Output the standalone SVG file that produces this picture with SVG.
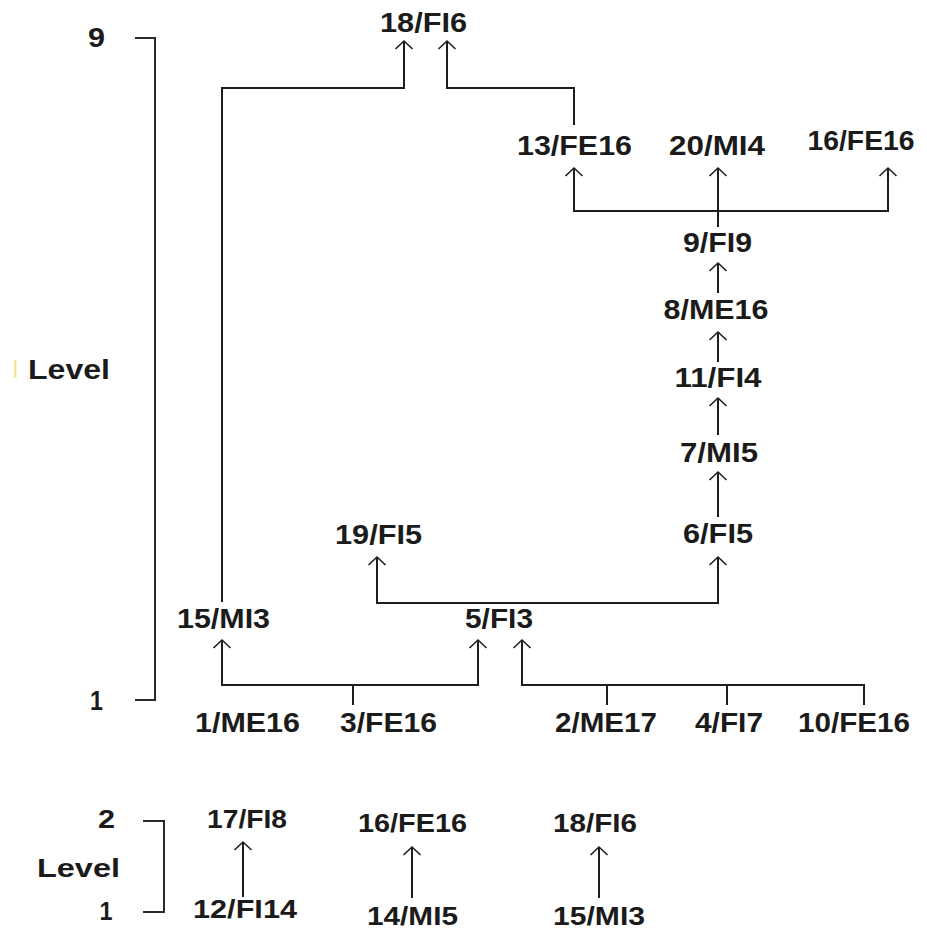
<svg xmlns="http://www.w3.org/2000/svg" width="927" height="930" viewBox="0 0 927 930">
<style>
text{font-family:"Liberation Sans",Arial,sans-serif;font-weight:bold;font-size:27px;fill:#1b1b1b;text-anchor:middle}
.b text{font-size:25.5px}
.conn path{fill:none;stroke:#1e1e1e;stroke-width:2}
.arr{marker-end:url(#ah)}
.br{fill:none;stroke:#2a2a2a;stroke-width:2}
</style>
<defs>
<marker id="ah" viewBox="-12 -12 24 24" refX="0" refY="0" markerWidth="24" markerHeight="24" markerUnits="userSpaceOnUse" orient="auto" overflow="visible">
<path d="M-8,-8.5 L0,0 L-8,8.5" fill="none" stroke="#1e1e1e" stroke-width="1.6"/>
</marker>
</defs>
<rect width="927" height="930" fill="#ffffff"/>

<g id="scale-top">
<text x="96.5" y="47" textLength="17" lengthAdjust="spacingAndGlyphs">9</text>
<rect x="14" y="360" width="2.5" height="18" fill="#f1e3a4"/>
<text x="69" y="379" textLength="82" lengthAdjust="spacingAndGlyphs">Level</text>
<text x="96.5" y="710" textLength="13" lengthAdjust="spacingAndGlyphs">1</text>
<path class="br" d="M135,38 H155 V700 H135"/>
</g>

<g id="scale-bottom" class="b">
<text x="106.5" y="828" textLength="17" lengthAdjust="spacingAndGlyphs">2</text>
<text x="78.5" y="877" textLength="83" lengthAdjust="spacingAndGlyphs">Level</text>
<text x="106" y="920" textLength="13" lengthAdjust="spacingAndGlyphs">1</text>
<path class="br" d="M143,821 H164 V912 H143"/>
</g>

<g class="conn" id="connectors">
<path class="arr" d="M222,602 V88 H404 V41"/>
<path class="arr" d="M574,125 V88 H447 V41"/>
<path d="M718,227 V211"/>
<path class="arr" d="M718,211 H574 V168"/>
<path class="arr" d="M718,211 H888 V168"/>
<path class="arr" d="M718,211 V168"/>
<path class="arr" d="M718,293 V263"/>
<path class="arr" d="M718,362 V332"/>
<path class="arr" d="M718,435 V398"/>
<path class="arr" d="M718,517 V472"/>
<path class="arr" d="M548,603 H377 V557"/>
<path class="arr" d="M548,603 H718 V557"/>
<path d="M353,705 V685"/>
<path class="arr" d="M353,685 H222 V640"/>
<path class="arr" d="M353,685 H478 V640"/>
<path class="arr" d="M864,705 V685 H522 V640"/>
<path d="M607,685 V705"/>
<path d="M727,685 V705"/>
<path class="arr" d="M243,897 V842"/>
<path class="arr" d="M412,898 V847"/>
<path class="arr" d="M599,898 V847"/>
</g>

<g id="n18-FI6"><text x="423.5" y="32" textLength="87" lengthAdjust="spacingAndGlyphs">18/FI6</text></g>
<g id="n13-FE16"><text x="574.5" y="155" textLength="115" lengthAdjust="spacingAndGlyphs">13/FE16</text></g>
<g id="n20-MI4"><text x="717" y="155" textLength="96" lengthAdjust="spacingAndGlyphs">20/MI4</text></g>
<g id="n16-FE16"><text x="861" y="150" textLength="107" lengthAdjust="spacingAndGlyphs">16/FE16</text></g>
<g id="n9-FI9"><text x="717.5" y="252" textLength="69" lengthAdjust="spacingAndGlyphs">9/FI9</text></g>
<g id="n8-ME16"><text x="716" y="319" textLength="105" lengthAdjust="spacingAndGlyphs">8/ME16</text></g>
<g id="n11-FI4"><text x="718" y="387" textLength="87" lengthAdjust="spacingAndGlyphs">11/FI4</text></g>
<g id="n7-MI5"><text x="719" y="462" textLength="78" lengthAdjust="spacingAndGlyphs">7/MI5</text></g>
<g id="n6-FI5"><text x="718" y="543" textLength="70" lengthAdjust="spacingAndGlyphs">6/FI5</text></g>
<g id="n19-FI5"><text x="378.5" y="544" textLength="87" lengthAdjust="spacingAndGlyphs">19/FI5</text></g>
<g id="n15-MI3"><text x="223.5" y="628" textLength="93" lengthAdjust="spacingAndGlyphs">15/MI3</text></g>
<g id="n5-FI3"><text x="499" y="628" textLength="68" lengthAdjust="spacingAndGlyphs">5/FI3</text></g>
<g id="n1-ME16"><text x="247.5" y="732" textLength="105" lengthAdjust="spacingAndGlyphs">1/ME16</text></g>
<g id="n3-FE16"><text x="388.5" y="732" textLength="97" lengthAdjust="spacingAndGlyphs">3/FE16</text></g>
<g id="n2-ME17"><text x="606" y="732" textLength="102" lengthAdjust="spacingAndGlyphs">2/ME17</text></g>
<g id="n4-FI7"><text x="729" y="732" textLength="68" lengthAdjust="spacingAndGlyphs">4/FI7</text></g>
<g id="n10-FE16"><text x="854" y="732" textLength="112" lengthAdjust="spacingAndGlyphs">10/FE16</text></g>

<g class="b">
<g id="b17-FI8"><text x="247" y="828" textLength="80" lengthAdjust="spacingAndGlyphs">17/FI8</text></g>
<g id="b12-FI14"><text x="245" y="918" textLength="104" lengthAdjust="spacingAndGlyphs">12/FI14</text></g>
<g id="b16-FE16"><text x="412.5" y="832" textLength="109" lengthAdjust="spacingAndGlyphs">16/FE16</text></g>
<g id="b14-MI5"><text x="412.5" y="925" textLength="91" lengthAdjust="spacingAndGlyphs">14/MI5</text></g>
<g id="b18-FI6"><text x="595" y="832" textLength="84" lengthAdjust="spacingAndGlyphs">18/FI6</text></g>
<g id="b15-MI3"><text x="599" y="925" textLength="92" lengthAdjust="spacingAndGlyphs">15/MI3</text></g>
</g>
</svg>
